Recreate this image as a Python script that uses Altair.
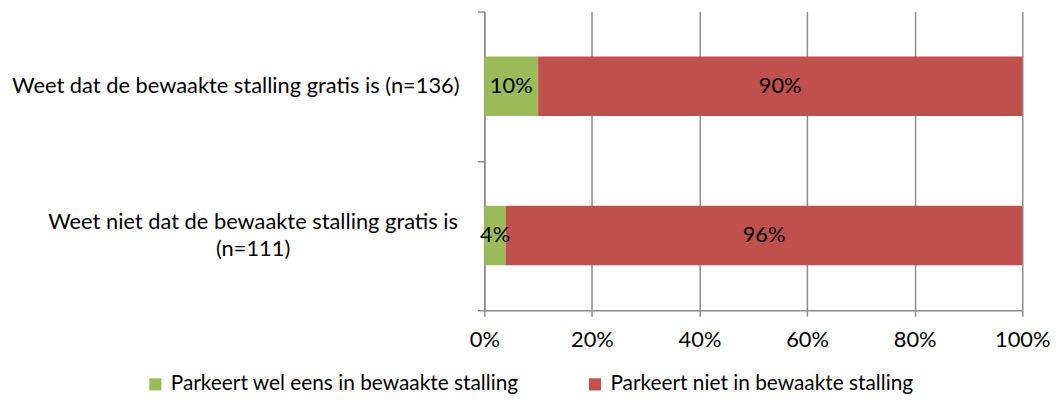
import altair as alt
import pandas as pd

categories = [
    "Weet dat de bewaakte stalling gratis is (n=136)",
    "Weet niet dat de bewaakte stalling gratis is (n=111)",
]
category_labels = [
    "Weet dat de bewaakte stalling gratis is (n=136)",
    "Weet niet dat de bewaakte stalling gratis is\n(n=111)",
]
series = ["Parkeert wel eens in bewaakte stalling", "Parkeert niet in bewaakte stalling"]
wel_eens = [0.10, 0.04]
niet = [0.90, 0.96]
value_labels_wel = ["10%", "4%"]
value_labels_niet = ["90%", "96%"]
colors = ["#9BBB59", "#C0504D"]
x_ticks = [0, 0.2, 0.4, 0.6, 0.8, 1.0]

FONT = "Lato"
FS = 22
GRAY = "#8C8C8C"

rows = []
for i, cat in enumerate(categories):
    rows.append({"cat": cat, "series": series[0], "start": 0.0, "end": wel_eens[i],
                 "mid": wel_eens[i] / 2, "lab": value_labels_wel[i], "order": 0})
    rows.append({"cat": cat, "series": series[1], "start": wel_eens[i], "end": wel_eens[i] + niet[i],
                 "mid": wel_eens[i] + niet[i] / 2, "lab": value_labels_niet[i], "order": 1})
df = pd.DataFrame(rows)
catdf = pd.DataFrame({"cat": categories, "label": category_labels, "idx": [0, 1]})

yenc = alt.Y(
    "cat:N", sort=categories, title=None,
    scale=alt.Scale(paddingInner=0, paddingOuter=0),
    axis=alt.Axis(labels=False, tickBand="extent", grid=False, domainColor=GRAY,
                  domainWidth=1.5, tickColor=GRAY, tickWidth=1.5, tickSize=7),
)

bars = alt.Chart(df).mark_bar(height=60).encode(
    y=yenc,
    x=alt.X("start:Q", title=None,
            scale=alt.Scale(domain=[0, 1], nice=False),
            axis=alt.Axis(values=x_ticks, format=".0%", grid=True, gridColor=GRAY, gridWidth=1.5,
                          domainColor=GRAY, domainWidth=1.5, tickColor=GRAY, tickWidth=1.5,
                          tickSize=6, labelFont=FONT, labelFontSize=FS, labelColor="black",
                          labelPadding=14, labelFlush=False, labelOverlap=False)),
    x2="end:Q",
    color=alt.Color("series:N", sort=series,
                    scale=alt.Scale(domain=series, range=colors),
                    legend=alt.Legend(title=None, orient="none", legendX=-342, legendY=365,
                                      direction="horizontal", symbolType="square", symbolSize=150,
                                      symbolStrokeWidth=0, labelFont=FONT, labelFontSize=21,
                                      labelColor="black", columnPadding=66, labelOffset=5,
                                      padding=0, labelLimit=600)),
    order="order:Q",
)

values = alt.Chart(df).mark_text(font=FONT, fontSize=FS, color="black").encode(
    y=alt.Y("cat:N", sort=categories), x=alt.X("mid:Q"), text="lab:N"
)

lab1 = alt.Chart(catdf).transform_filter("datum.idx == 0").mark_text(
    font=FONT, fontSize=FS, color="black", align="right", baseline="middle"
).encode(y=alt.Y("cat:N", sort=categories), x=alt.value(-25), text="label:N")

lab2 = alt.Chart(catdf).transform_filter("datum.idx == 1").mark_text(
    font=FONT, fontSize=FS, color="black", align="center", baseline="middle", lineBreak="\n",
    lineHeight=28, dy=-14
).encode(y=alt.Y("cat:N", sort=categories), x=alt.value(-233), text="label:N")

chart = alt.layer(bars, values, lab1, lab2).properties(
    width=542, height=301,
    autosize=alt.AutoSizeParams(type="none"),
    padding={"left": 480, "top": 2, "right": 32, "bottom": 88},
).configure_view(stroke=None)

chart.save("out.html", embed_options={"renderer": "svg", "actions": False})
